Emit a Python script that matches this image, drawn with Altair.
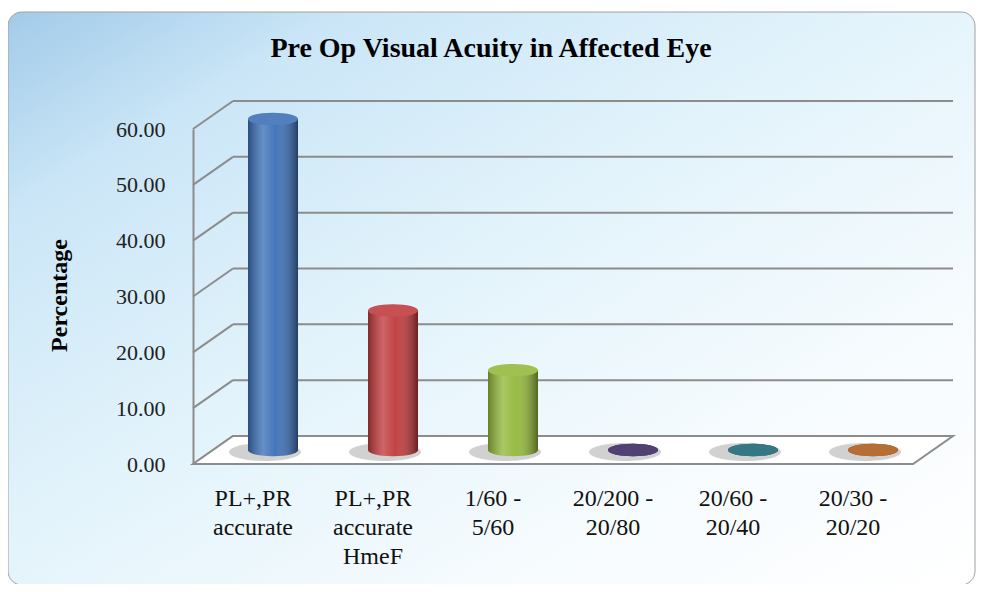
import altair as alt
import pandas as pd

# ---- data ----
categories = ["PL+,PR\naccurate", "PL+,PR\naccurate\nHmeF", "1/60 -\n5/60",
              "20/200 -\n20/80", "20/60 -\n20/40", "20/30 -\n20/20"]
values = [59.3, 25.0, 14.3, 0.0, 0.0, 0.0]
bar_colors = ["#3b6fb6", "#c0393b", "#93b83a", "#3a2760", "#1b6574", "#ad5a18"]
tick_values = [0, 10, 20, 30, 40, 50, 60]
title_text = "Pre Op Visual Acuity in Affected Eye"
y_title = "Percentage"

# ---- layout (pixels) ----
W, H = 720, 335
DX, DY = 40, 28          # depth of the 3-D box
BW = 50                  # cylinder width
SERIF = "Liberation Serif"
GRID = "#8c8c8c"

df = pd.DataFrame({"cat": categories, "v": values})
grid_df = pd.DataFrame({"t": tick_values})
one = pd.DataFrame({"a": [0]})

k = 0.25
c = 0.552 * k
ELL = (f"M -1 0 C -1 {-c} -0.552 {-k} 0 {-k} C 0.552 {-k} 1 {-c} 1 0 "
       f"C 1 {c} 0.552 {k} 0 {k} C -0.552 {k} -1 {c} -1 0 Z")

y_scale = alt.Scale(domain=[0, 60], nice=False, zero=True)
y_axis = alt.Axis(values=tick_values, format=".2f", grid=False, ticks=False,
                  domain=True, domainColor=GRID, domainWidth=2,
                  labelFont=SERIF, labelFontSize=22, labelColor="#222",
                  labelPadding=28, title=y_title, titleFont=SERIF,
                  titleFontSize=24, titleFontWeight="bold", titleColor="black",
                  titleAngle=270, titleX=-127, titleY=166, titleAlign="center",
                  titleBaseline="alphabetic", zindex=1)
x_axis = alt.Axis(title=None, domain=False, ticks=False, labelAngle=0,
                  labelFont=SERIF, labelFontSize=24, labelLineHeight=29,
                  labelPadding=22, labelColor="#111", labelBaseline="top",
                  labelExpr="split(datum.label, '\\n')", labelLimit=0, zindex=1)
x_enc = alt.X("cat:N", scale=alt.Scale(domain=categories, paddingInner=0, paddingOuter=0),
              axis=x_axis)
y_val = alt.Y("v:Q", scale=y_scale, axis=y_axis, stack=None)
y_grid = alt.Y("t:Q", scale=y_scale, axis=y_axis)
color_enc = alt.Color("cat:N", scale=alt.Scale(domain=categories, range=bar_colors), legend=None)

card_grad = alt.LinearGradient(
    gradient="linear", x1=0, y1=0, x2=1, y2=1,
    stops=[alt.GradientStop(offset=0, color="#a2cbe9"),
           alt.GradientStop(offset=0.18, color="#cbe6f7"),
           alt.GradientStop(offset=0.45, color="#e2f3fb"),
           alt.GradientStop(offset=0.75, color="#f6fbfe"),
           alt.GradientStop(offset=1, color="#ffffff")])
shade_grad = alt.LinearGradient(
    gradient="linear", x1=0, y1=0, x2=1, y2=0,
    stops=[alt.GradientStop(offset=0, color="rgba(0,0,0,0.30)"),
           alt.GradientStop(offset=0.3, color="rgba(255,255,255,0.22)"),
           alt.GradientStop(offset=0.55, color="rgba(255,255,255,0.05)"),
           alt.GradientStop(offset=1, color="rgba(0,0,0,0.45)")])

bg = alt.Chart(one).mark_rect(cornerRadius=14, color=card_grad, stroke="#a0a0a0",
                              strokeWidth=1).encode(
    x=alt.value(-185), x2=alt.value(782), y=alt.value(-117), y2=alt.value(456))

grid = alt.Chart(grid_df).mark_rule(color=GRID, strokeWidth=2, yOffset=-DY).encode(
    x=alt.value(DX), x2=alt.value(W + DX), y=y_grid)

diag = alt.Chart(grid_df).mark_rule(color=GRID, strokeWidth=2, y2Offset=-DY).encode(
    x=alt.value(0), x2=alt.value(DX), y=y_grid, y2="t:Q")

floor = alt.Chart(one).mark_point(
    shape=f"M 0 0 L {DX} {-DY} L {W + DX} {-DY} L {W} 0 Z", size=4, filled=True,
    fill="white", stroke=GRID, strokeWidth=2, opacity=1, fillOpacity=1).encode(
    x=alt.value(0), y=alt.value(H))

mid_x, mid_y = DX / 2, -DY / 2

shadow = alt.Chart(df).mark_point(shape=ELL, size=72 ** 2, filled=True, color="#7a7a7a",
                                  opacity=0.35, xOffset=mid_x - 8, yOffset=mid_y + 2).encode(
    x=x_enc, y=alt.datum(0))

bottom_ell = alt.Chart(df).mark_point(shape=ELL, size=BW ** 2, filled=True, opacity=1,
                                      xOffset=mid_x, yOffset=mid_y).encode(
    x=x_enc, y=alt.datum(0), color=color_enc)
bottom_shade = alt.Chart(df).mark_point(shape=ELL, size=BW ** 2, filled=True, opacity=1,
                                        fill=shade_grad, xOffset=mid_x, yOffset=mid_y).encode(
    x=x_enc, y=alt.datum(0))

bars = alt.Chart(df).mark_bar(width=BW, xOffset=mid_x, yOffset=mid_y, y2Offset=mid_y).encode(
    x=x_enc, y=y_val, y2=alt.datum(0), color=color_enc)
bars_shade = alt.Chart(df).mark_bar(width=BW, xOffset=mid_x, yOffset=mid_y, y2Offset=mid_y,
                                    color=shade_grad).encode(
    x=x_enc, y=y_val, y2=alt.datum(0))

top_ell = alt.Chart(df).mark_point(shape=ELL, size=BW ** 2, filled=True, opacity=1,
                                   xOffset=mid_x, yOffset=mid_y).encode(
    x=x_enc, y=y_val, color=color_enc)
top_hl = alt.Chart(df).mark_point(shape=ELL, size=BW ** 2, filled=True, opacity=0.12,
                                  color="white", xOffset=mid_x, yOffset=mid_y).encode(
    x=x_enc, y=y_val)

title = alt.Chart(one).mark_text(text=title_text, font=SERIF, fontSize=28, fontWeight="bold",
                                 align="center", baseline="alphabetic", color="black").encode(
    x=alt.value(298), y=alt.value(-72))

chart = alt.layer(bg, grid, diag, floor, shadow, bottom_ell, bottom_shade, bars, bars_shade,
                  top_ell, top_hl, title).properties(
    width=W, height=H,
    padding={"left": 185, "top": 121, "right": 66, "bottom": 120},
    autosize=alt.AutoSizeParams(type="none"),
).configure_view(stroke=None)

chart.save("out.html", embed_options={"renderer": "svg", "actions": False})
